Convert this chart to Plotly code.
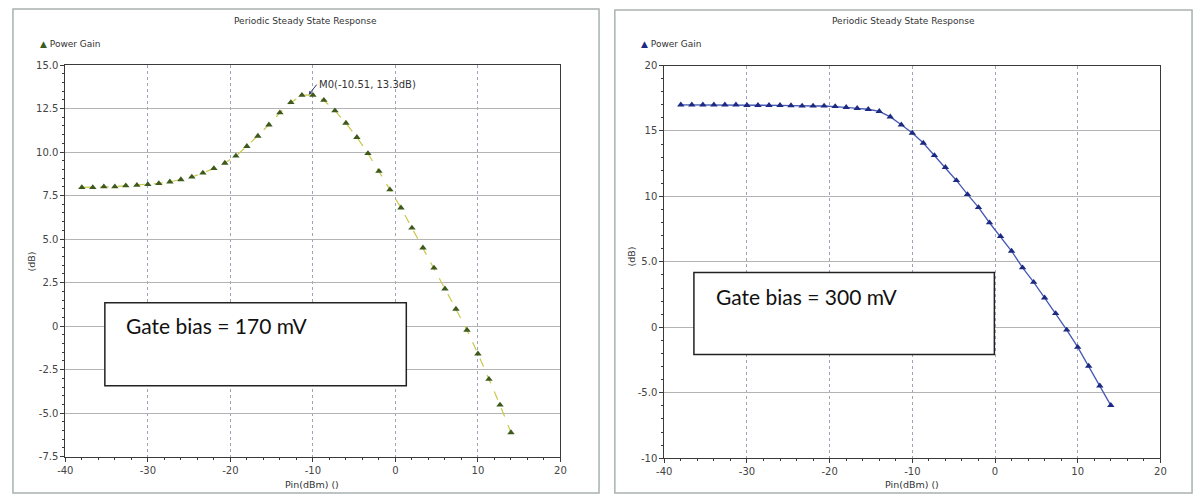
import plotly.graph_objects as go

# ---------------- data ----------------
pin_dbm = [-38.0, -36.67, -35.33, -34.0, -32.67, -31.33, -30.0, -28.67, -27.33, -26.0,
           -24.67, -23.33, -22.0, -20.67, -19.33, -18.0, -16.67, -15.33, -14.0, -12.67,
           -11.33, -10.0, -8.67, -7.33, -6.0, -4.67, -3.33, -2.0, -0.67, 0.67,
           2.0, 3.33, 4.67, 6.0, 7.33, 8.67, 10.0, 11.33, 12.67, 14.0]

gain_170mV = [7.97, 7.97, 8.01, 8.01, 8.07, 8.10, 8.14, 8.20, 8.29, 8.42,
              8.57, 8.80, 9.06, 9.37, 9.78, 10.33, 10.92, 11.57, 12.26, 12.85,
              13.27, 13.27, 12.98, 12.38, 11.67, 10.85, 9.92, 8.90, 7.84, 6.80,
              5.64, 4.50, 3.34, 2.14, 0.98, -0.23, -1.59, -3.05, -4.53, -6.12]

gain_300mV = [17.00, 17.00, 17.00, 17.00, 17.00, 17.00, 16.96, 16.96, 16.96, 16.96,
              16.94, 16.91, 16.91, 16.91, 16.88, 16.81, 16.73, 16.66, 16.50, 16.08,
              15.47, 14.84, 14.08, 13.13, 12.22, 11.22, 10.15, 9.16, 7.99, 6.95,
              5.83, 4.56, 3.45, 2.25, 1.06, -0.20, -1.52, -2.96, -4.47, -5.96]

x_ticks = [-40, -30, -20, -10, 0, 10, 20]
x_tick_labels = ["-40", "-30", "-20", "-10", "0", "10", "20"]
y1_ticks = [15, 12.5, 10, 7.5, 5, 2.5, 0, -2.5, -5, -7.5]
y1_tick_labels = ["15.0", "12.5", "10.0", "7.5", "5.0", "2.5", "0", "-2.5", "-5.0", "-7.5"]
y2_ticks = [20, 15, 10, 5, 0, -5, -10]
y2_tick_labels = ["20", "15", "10", "5.0", "0", "-5.0", "-10"]

marker_label = "M0(-10.51, 13.3dB)"
marker_x, marker_y = -10.51, 13.3
title_text = "Periodic Steady State Response"
legend_text = "Power Gain"
box_text_left = "Gate bias = 170 mV"
box_text_right = "Gate bias = 300 mV"

# ---------------- layout helpers ----------------
W, H = 1201, 501
def px(x):
    return x / W
def py(y):
    return 1 - y / H

FONT = "DejaVu Sans"
TICKCOL = "#444444"

fig = go.Figure()

fig.add_trace(go.Scatter(
    x=pin_dbm, y=gain_170mV, mode="lines+markers", xaxis="x", yaxis="y",
    line=dict(color="#c9c84a", width=1.2, dash="dash"),
    marker=dict(symbol="triangle-up", size=6.5, color="#3d5a1c"),
    showlegend=False, name=legend_text))

fig.add_trace(go.Scatter(
    x=pin_dbm, y=gain_300mV, mode="lines+markers", xaxis="x2", yaxis="y2",
    line=dict(color="#4658b4", width=1.3),
    marker=dict(symbol="triangle-up", size=6.5, color="#1c2a82"),
    showlegend=False, name=legend_text))

def xaxis_cfg(domain, anchor):
    return dict(domain=domain, anchor=anchor, range=[-40, 20],
                tickmode="array", tickvals=x_ticks, ticktext=x_tick_labels,
                showgrid=True, gridcolor="#9ea3b8", griddash="dot", gridwidth=1,
                zeroline=False, showline=True, mirror=True, linecolor="#3a3a3a", linewidth=1,
                ticks="outside", ticklen=4, tickcolor="#3a3a3a",
                minor=dict(tickmode="linear", tick0=-40, dtick=2, ticks="outside",
                           ticklen=2, tickcolor="#3a3a3a", showgrid=False),
                tickfont=dict(family=FONT, size=10, color=TICKCOL))

def yaxis_cfg(domain, anchor, rng, tv, tt, mdt):
    return dict(domain=domain, anchor=anchor, range=rng,
                tickmode="array", tickvals=tv, ticktext=tt,
                showgrid=True, gridcolor="#b4b4b4", gridwidth=1,
                zeroline=False, showline=True, mirror=True, linecolor="#3a3a3a", linewidth=1,
                ticks="outside", ticklen=4, tickcolor="#3a3a3a",
                minor=dict(tickmode="linear", tick0=rng[0], dtick=mdt, ticks="outside",
                           ticklen=2, tickcolor="#3a3a3a", showgrid=False),
                tickfont=dict(family=FONT, size=10, color=TICKCOL))

fig.update_layout(
    width=W, height=H, margin=dict(l=0, r=0, t=0, b=0),
    paper_bgcolor="white", plot_bgcolor="white",
    xaxis=xaxis_cfg([px(58), px(559)], "y"),
    yaxis=yaxis_cfg([py(461.7), py(60.5)], "x", [-7.5, 15], y1_ticks, y1_tick_labels, 0.5),
    xaxis2=xaxis_cfg([px(664), px(1166)], "y2"),
    yaxis2=yaxis_cfg([py(463.3), py(61)], "x2", [-10, 20], y2_ticks, y2_tick_labels, 1),
)

ann = []
def paper_text(text, x, y, size=10, angle=0, xanchor="center", color="#333333", family=FONT):
    ann.append(dict(text=text, x=px(x), y=py(y), xref="paper", yref="paper",
                    showarrow=False, xanchor=xanchor, yanchor="middle", textangle=angle,
                    font=dict(family=family, size=size, color=color)))

# titles
paper_text(title_text, 301, 15, size=9)
paper_text(title_text, 906, 15, size=9)
# legends
paper_text('<span style="color:#3d5a1c">▲</span> ' + legend_text, 30, 39, size=9, xanchor="left")
paper_text('<span style="color:#1c2a82">▲</span> ' + legend_text, 638, 39, size=9, xanchor="left")
# axis titles
paper_text("(dB)", 24, 262, size=9.5, angle=-90)
paper_text("(dB)", 631, 257, size=9.5, angle=-90)
paper_text("Pin(dBm) ()", 308, 490, size=9.5)
paper_text("Pin(dBm) ()", 915, 490, size=9.5)
# text boxes
paper_text(box_text_left, 117, 327, size=21, xanchor="left", color="#111111", family="Lato")
paper_text(box_text_right, 714, 298, size=21, xanchor="left", color="#111111", family="Lato")

# marker annotation
ann.append(dict(text=marker_label, x=marker_x, y=marker_y, xref="x", yref="y",
                showarrow=True, ax=8, ay=-10, xanchor="left", yanchor="middle",
                arrowhead=2, arrowsize=0.7, arrowwidth=1, arrowcolor="#2e3470",
                font=dict(family=FONT, size=10, color="#333333")))

fig.update_layout(annotations=ann)

shapes = [
    # panel frames
    dict(type="rect", xref="paper", yref="paper", x0=px(5), x1=px(598), y0=py(499), y1=py(3),
         line=dict(color="#a9b1b1", width=1.5), fillcolor="rgba(0,0,0,0)", layer="below"),
    dict(type="rect", xref="paper", yref="paper", x0=px(614), x1=px(1198), y0=py(499), y1=py(4),
         line=dict(color="#a9b1b1", width=1.5), fillcolor="rgba(0,0,0,0)", layer="below"),
    # text boxes
    dict(type="rect", xref="paper", yref="paper", x0=px(98), x1=px(403), y0=py(389), y1=py(304),
         line=dict(color="#222222", width=1.5), fillcolor="white", layer="above"),
    dict(type="rect", xref="paper", yref="paper", x0=px(694), x1=px(998), y0=py(357), y1=py(273),
         line=dict(color="#222222", width=1.5), fillcolor="white", layer="above"),
]
fig.update_layout(shapes=shapes)

fig.write_html("out.html",
               config={"displayModeBar": False},
               post_script="document.body.style.margin='0px';document.body.style.padding='0px';"
                           "document.documentElement.style.overflow='hidden';")
